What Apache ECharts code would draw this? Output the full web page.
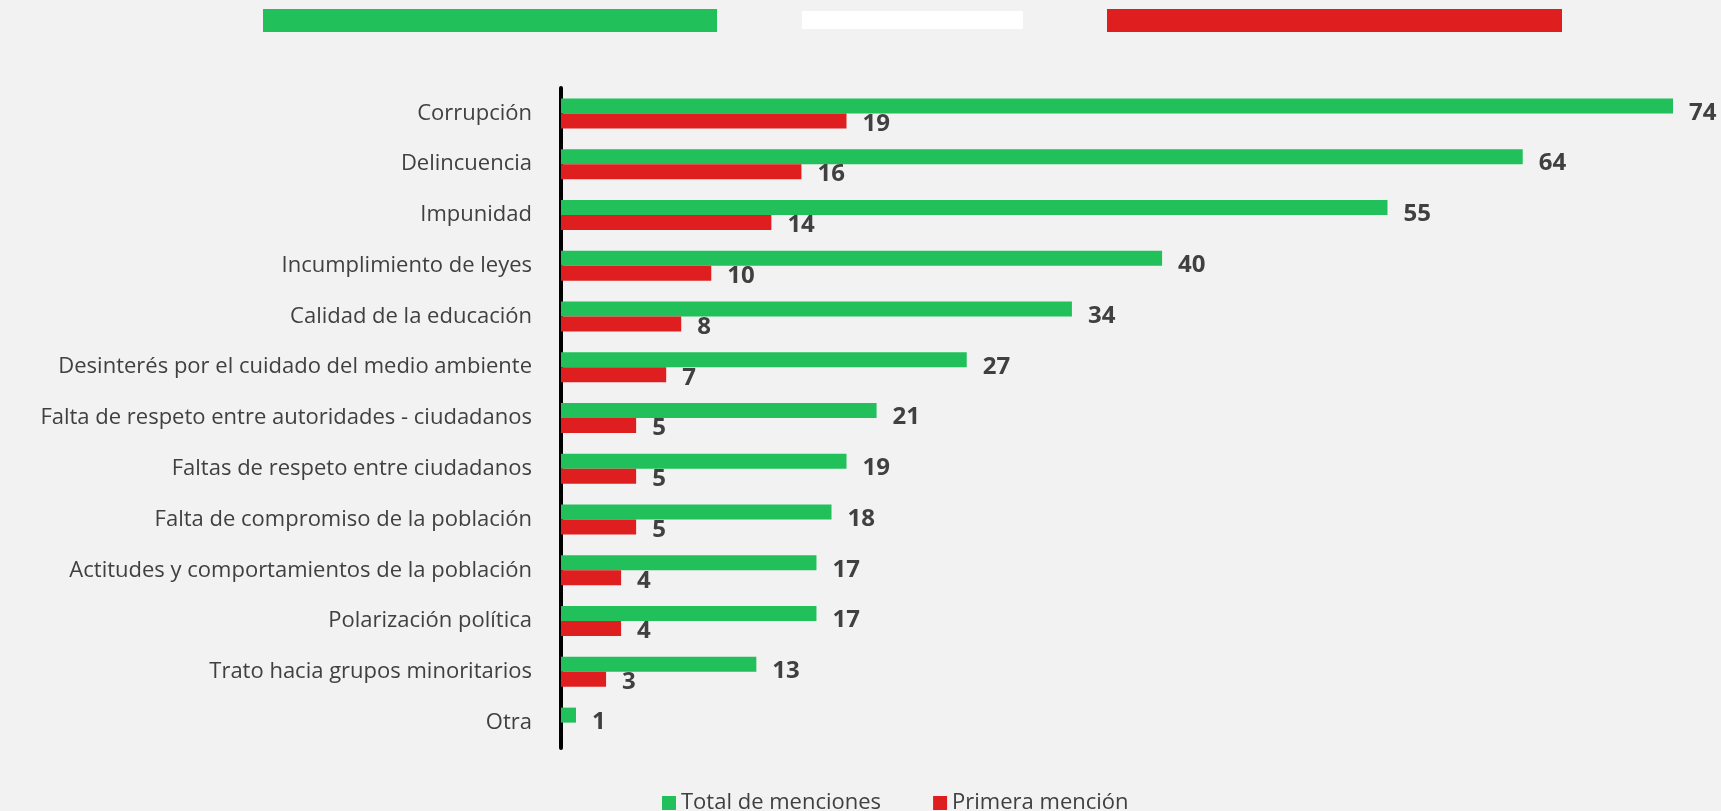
<!DOCTYPE html>
<html>
<head>
<meta charset="utf-8">
<script src="https://cdn.jsdelivr.net/npm/echarts@6/dist/echarts.min.js"></script>
<style>
  html, body { margin: 0; padding: 0; background: #f2f2f2; }
  #main { width: 1721px; height: 811px; }
</style>
</head>
<body>
<div id="main"></div>
<script>
    var categories = [
        'Corrupción',
        'Delincuencia',
        'Impunidad',
        'Incumplimiento de leyes',
        'Calidad de la educación',
        'Desinterés por el cuidado del medio ambiente',
        'Falta de respeto entre autoridades - ciudadanos',
        'Faltas de respeto entre ciudadanos',
        'Falta de compromiso de la población',
        'Actitudes y comportamientos de la población',
        'Polarización política',
        'Trato hacia grupos minoritarios',
        'Otra'
    ];
    var totalMenciones = [74, 64, 55, 40, 34, 27, 21, 19, 18, 17, 17, 13, 1];
    var primeraMencion = [19, 16, 14, 10, 8, 7, 5, 5, 5, 4, 4, 3, null];

    var green = '#21c05a';
    var red = '#df1f1f';
    var font = 'Open Sans';

    var chart = echarts.init(document.getElementById('main'));

    var option = {
        backgroundColor: '#f2f2f2',
        textStyle: {fontFamily: font},
        // franjas decorativas de arriba
        graphic: [
            {type: 'rect', shape: {x: 263, y: 9, width: 454, height: 23}, style: {fill: green}},
            {type: 'rect', shape: {x: 802, y: 11, width: 221, height: 18}, style: {fill: '#ffffff'}},
            {type: 'rect', shape: {x: 1107, y: 9, width: 455, height: 23}, style: {fill: red}}
        ],
        legend: {
            data: ['Total de menciones', 'Primera mención'],
            left: 657,
            top: 787,
            itemWidth: 14,
            itemHeight: 14,
            itemGap: 52,
            icon: 'rect',
            textStyle: {fontSize: 22, color: '#404040', fontFamily: font}
        },
        grid: {
            left: 561,
            right: 48,
            top: 88,
            height: 660
        },
        xAxis: {
            type: 'value',
            min: 0,
            max: 74,
            show: false
        },
        yAxis: {
            type: 'category',
            inverse: true,
            data: categories,
            axisTick: {show: false},
            axisLine: {lineStyle: {color: '#000', width: 4}},
            axisLabel: {margin: 29, fontSize: 22, color: '#404040', fontFamily: font}
        },
        series: [{
            name: 'Total de menciones',
            type: 'bar',
            data: totalMenciones,
            barWidth: 15,
            barGap: '0%',
            itemStyle: {color: green},
            label: {
                show: true, position: 'right', distance: 16, offset: [0, 7],
                fontSize: 24, fontWeight: 'bold', color: '#404040', fontFamily: font
            }
        }, {
            name: 'Primera mención',
            type: 'bar',
            data: primeraMencion,
            barWidth: 15,
            barGap: '0%',
            itemStyle: {color: red},
            label: {
                show: true, position: 'right', distance: 16, offset: [0, 3],
                fontSize: 24, fontWeight: 'bold', color: '#404040', fontFamily: font
            }
        }]
    };

    chart.setOption(option);
</script>
</body>
</html>
